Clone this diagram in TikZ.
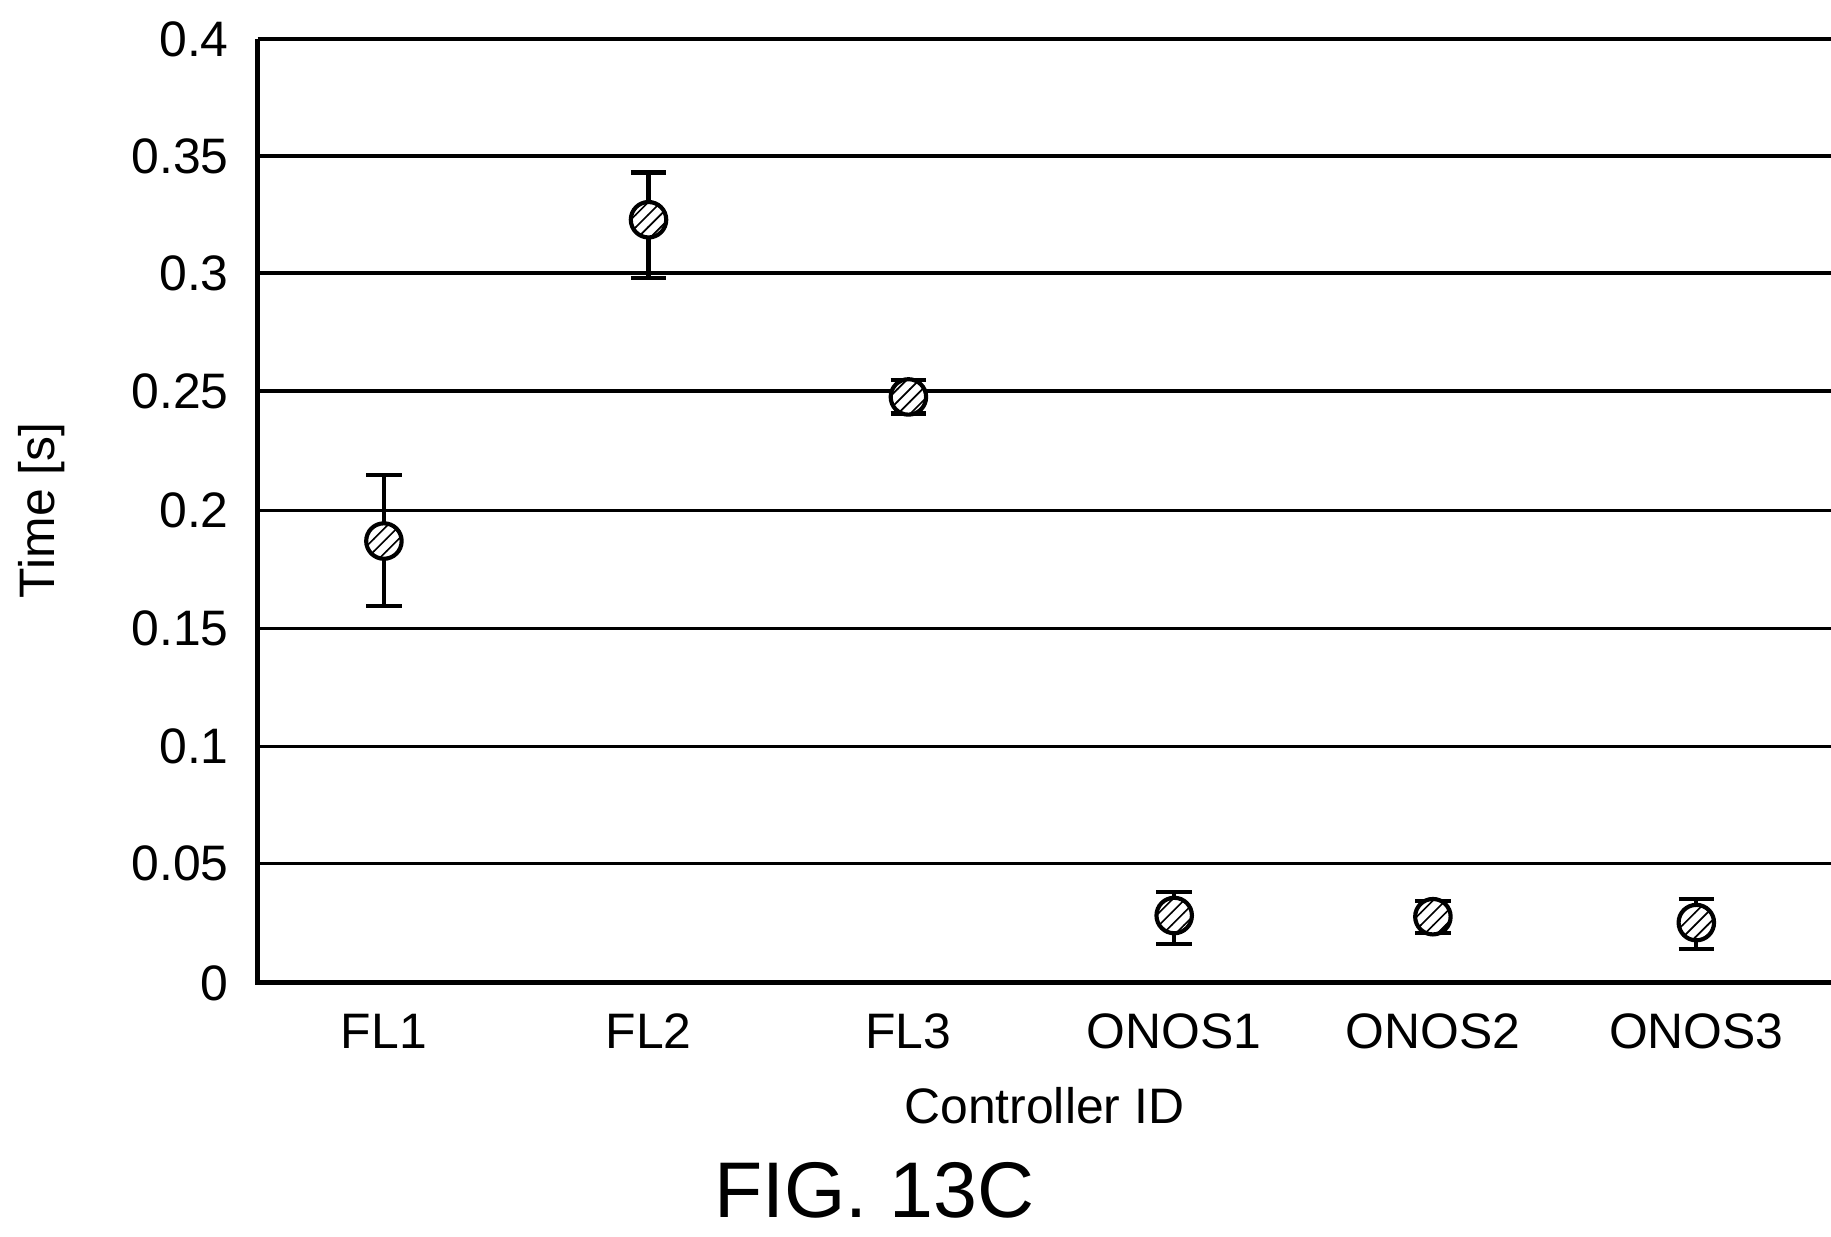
\documentclass[tikz,border=0pt]{standalone}
\usepackage{fontspec}
\setmainfont{Liberation Sans}
\usetikzlibrary{patterns}
\begin{document}
\begin{tikzpicture}[x=0.01cm,y=-0.01cm,
  tick/.style={anchor=east,font=\fontsize{12pt}{14pt}\selectfont},
  cat/.style={anchor=north,font=\fontsize{12pt}{14pt}\selectfont},
  grid/.style={line width=0.8pt},
  ebar/.style={line width=1pt},
  marker/.style={circle,draw,line width=1pt,minimum size=0.3cm,inner sep=0pt,fill=white,postaction={pattern=north east lines}}]
\useasboundingbox (0,0) rectangle (1550,1047);
% grid
\foreach \v/\y in {0.05/731,0.1/632,0.15/532,0.2/432,0.25/331,0.3/231,0.35/132,0.4/33}{
  \draw[grid] (218,\y) -- (1550,\y);
  \node[tick] at (206,\y) {\v};
}
\node[tick] at (206,832) {0};
\draw[line width=1.2pt] (218,33) -- (218,832) -- (1550,832);
% categories
\foreach \x/\t in {325/FL1,549/FL2,769/FL3,994/ONOS1,1213/ONOS2,1436/ONOS3}
  \node[cat] at (\x,846) {\t};
\node[cat] (xl) at (884,908) {Controller ID};
\node[rotate=90,font=\fontsize{12pt}{14pt}\selectfont] (yl) at (35,432) {Time [s]};
\node[font=\fontsize{19pt}{22pt}\selectfont] (fig) at (740,1008) {FIG. 13C};
% data
\foreach \n/\x/\m/\t/\b in {a/325/458/402/513, b/549/186/146/235, c/769/336/322/350,
  d/994/775/755/799, e/1213/776/763/790, f/1436/781/761/803}{
  \coordinate (\n t) at (\x,\t);
  \coordinate (\n b) at (\x,\b);
  \draw[ebar] (\n t) -- (\n b);
  \draw[ebar] ([xshift=-0.15cm]\n t) -- ([xshift=0.15cm]\n t);
  \draw[ebar] ([xshift=-0.15cm]\n b) -- ([xshift=0.15cm]\n b);
  \node[marker] (\n) at (\x,\m) {};
}
\end{tikzpicture}
\end{document}
